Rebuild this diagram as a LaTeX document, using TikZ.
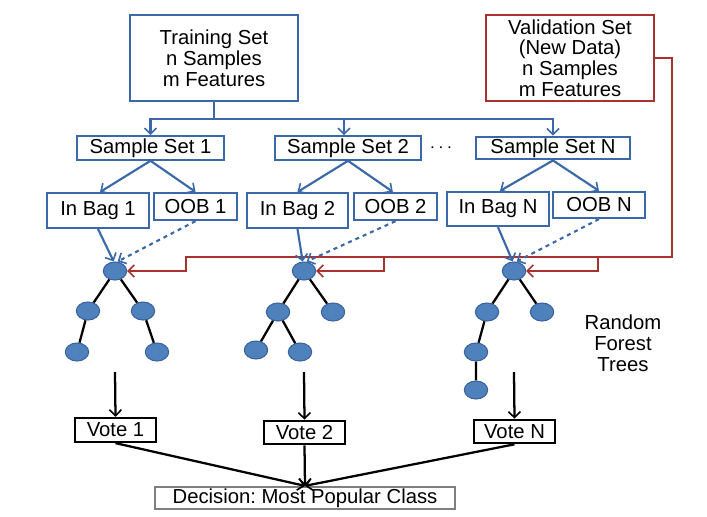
\documentclass[tikz,border=0pt]{standalone}
\usepackage{fontspec}
\setmainfont{Liberation Sans}
\usetikzlibrary{shapes.geometric,arrows.meta}
\definecolor{bblue}{HTML}{3B68A6}
\definecolor{nfill}{HTML}{4F81BD}
\definecolor{nborder}{HTML}{3A639A}
\definecolor{rred}{HTML}{A8322F}
\definecolor{ggray}{HTML}{7F7F7F}
\frenchspacing
\tikzset{
  txt/.style={font=\fontsize{15.2}{15.6}\selectfont, text=black, align=center},
  bbox/.style={txt, draw=bblue, line width=1.7pt, inner sep=0pt},
  rbox/.style={txt, draw=rred, line width=1.7pt, inner sep=0pt},
  kbox/.style={txt, draw=black, line width=1.7pt, inner sep=0pt},
  gbox/.style={txt, draw=ggray, line width=1.7pt, inner sep=0pt},
  tnode/.style={ellipse, fill=nfill, draw=nborder, line width=0.8pt, minimum width=17.5pt, minimum height=13.5pt, inner sep=0pt},
  barb/.style={-{Straight Barb[length=4.5pt,width=9pt,line width=1.2pt]}},
  bline/.style={draw=bblue, line width=1.6pt},
  rline/.style={draw=rred, line width=1.6pt},
  kline/.style={draw=black, line width=1.7pt},
}
\begin{document}
\begin{tikzpicture}[x=0.75pt,y=-0.75pt]
\useasboundingbox (0,0) rectangle (707,517);
% top boxes
\node[bbox, minimum width=126pt, minimum height=64.5pt] (train) at (214,58) {Training Set\\n Samples\\m Features};
\node[rbox, minimum width=126pt, minimum height=64.5pt] (val) at (570,58) {Validation Set\\(New Data)\\n Samples\\m Features};
% sample sets
\node[bbox, minimum width=110pt, minimum height=17.5pt] (ss1) at (150.5,148) {Sample Set 1};
\node[bbox, minimum width=109.5pt, minimum height=17.5pt] (ss2) at (348,148) {Sample Set 2};
\node[bbox, minimum width=115.5pt, minimum height=17pt] (ssN) at (553,148) {Sample Set N};
\node[txt] (dots) at (441,148) {$\cdots$};
% bags
\node[bbox, minimum width=76.5pt, minimum height=26pt] (ib1) at (98,210.5) {In Bag 1};
\node[bbox, minimum width=62.25pt, minimum height=20.25pt] (oob1) at (195.5,206.5) {OOB 1};
\node[bbox, minimum width=76pt, minimum height=26pt] (ib2) at (297.5,210.5) {In Bag 2};
\node[bbox, minimum width=62.25pt, minimum height=20.25pt] (oob2) at (395.5,206.5) {OOB 2};
\node[bbox, minimum width=76.5pt, minimum height=25.5pt] (ibN) at (498,209) {In Bag N};
\node[bbox, minimum width=69pt, minimum height=19.5pt] (oobN) at (599,205) {OOB N};
% trees
\node[tnode] (r1) at (115,271) {};
\node[tnode] (a1) at (88,311) {};
\node[tnode] (b1) at (143,311) {};
\node[tnode] (c1) at (77,352) {};
\node[tnode] (d1) at (157,352) {};
\node[tnode] (r2) at (304,271) {};
\node[tnode] (a2) at (278,312) {};
\node[tnode] (b2) at (333,312) {};
\node[tnode] (c2) at (256,350) {};
\node[tnode] (d2) at (300,352) {};
\node[tnode] (rN) at (514,271) {};
\node[tnode] (aN) at (487,312) {};
\node[tnode] (bN) at (542,312) {};
\node[tnode] (cN) at (476,352) {};
\node[tnode] (dN) at (476,390) {};
\node[txt] (rft) at (623,343) {Random\\Forest\\Trees};
% votes
\node[kbox, minimum width=60.75pt, minimum height=18pt] (v1) at (115.5,430) {Vote 1};
\node[kbox, minimum width=60.75pt, minimum height=17.5pt] (v2) at (304.5,432.5) {Vote 2};
\node[kbox, minimum width=60.75pt, minimum height=17.5pt] (vN) at (514.5,431.5) {Vote N};
\node[gbox, minimum width=225pt, minimum height=16.5pt] (dec) at (305,498) {Decision: Most Popular Class};
% coordinates
\coordinate (tj) at (214,119);
\coordinate (rc) at (672,257);
\coordinate (j1) at (186,257);
\coordinate (j2) at (384,257);
\coordinate (jN) at (598,257);
\coordinate (s1) at (115,372);
\coordinate (s2) at (304,372);
\coordinate (sN) at (514,372);
% training to sample sets
\draw[bline] (train.south) -- (tj);
\draw[bline, barb] (tj) -| (ss1.north);
\draw[bline, barb] (tj) -| ([xshift=-3pt]ss2.north);
\draw[bline, barb] (tj) -| (ssN.north);
% sample sets to bags
\draw[bline, barb] (ss1.south) -- ([xshift=1.5pt]ib1.north);
\draw[bline, barb] (ss1.south) -- (oob1.north);
\draw[bline, barb] (ss2.south) -- (ib2.north);
\draw[bline, barb] (ss2.south) -- ([xshift=-2pt]oob2.north);
\draw[bline, barb] (ssN.south) -- ([xshift=1.5pt]ibN.north);
\draw[bline, barb] (ssN.south) -- (oobN.north);
% red validation lines
\draw[rline, barb] (val.east) -| (rc) -- (j1) |- (r1.east);
\draw[rline, barb] (j2) |- (r2.east);
\draw[rline, barb] (jN) |- (rN.east);
% bags to roots
\draw[bline, barb] (ib1.south) -- ([xshift=-1pt]r1.north);
\draw[bline, barb, dashed] (oob1.south) -- ([xshift=2pt]r1.north);
\draw[bline, barb] (ib2.south) -- ([xshift=-1pt]r2.north);
\draw[bline, barb, dashed] (oob2.south) -- ([xshift=2pt]r2.north);
\draw[bline, barb] (ibN.south) -- ([xshift=-1pt]rN.north);
\draw[bline, barb, dashed] (oobN.south) -- ([xshift=2pt]rN.north);
% tree edges
\draw[kline] (r1) -- (a1) (r1) -- (b1) (a1) -- (c1) (b1) -- (d1);
\draw[kline] (r2) -- (a2) (r2) -- (b2) (a2) -- (c2) (a2) -- (d2);
\draw[kline] (rN) -- (aN) (rN) -- (bN) (aN) -- (cN) (cN) -- (dN);
% votes
\draw[kline, barb] (s1) -- (v1.north);
\draw[kline, barb] (s2) -- (v2.north);
\draw[kline, barb] (sN) -- (vN.north);
\draw[kline, barb] (v1.south) -- (dec.north);
\draw[kline, barb] (v2.south) -- (dec.north);
\draw[kline, barb] (vN.south) -- (dec.north);
\end{tikzpicture}
\end{document}
